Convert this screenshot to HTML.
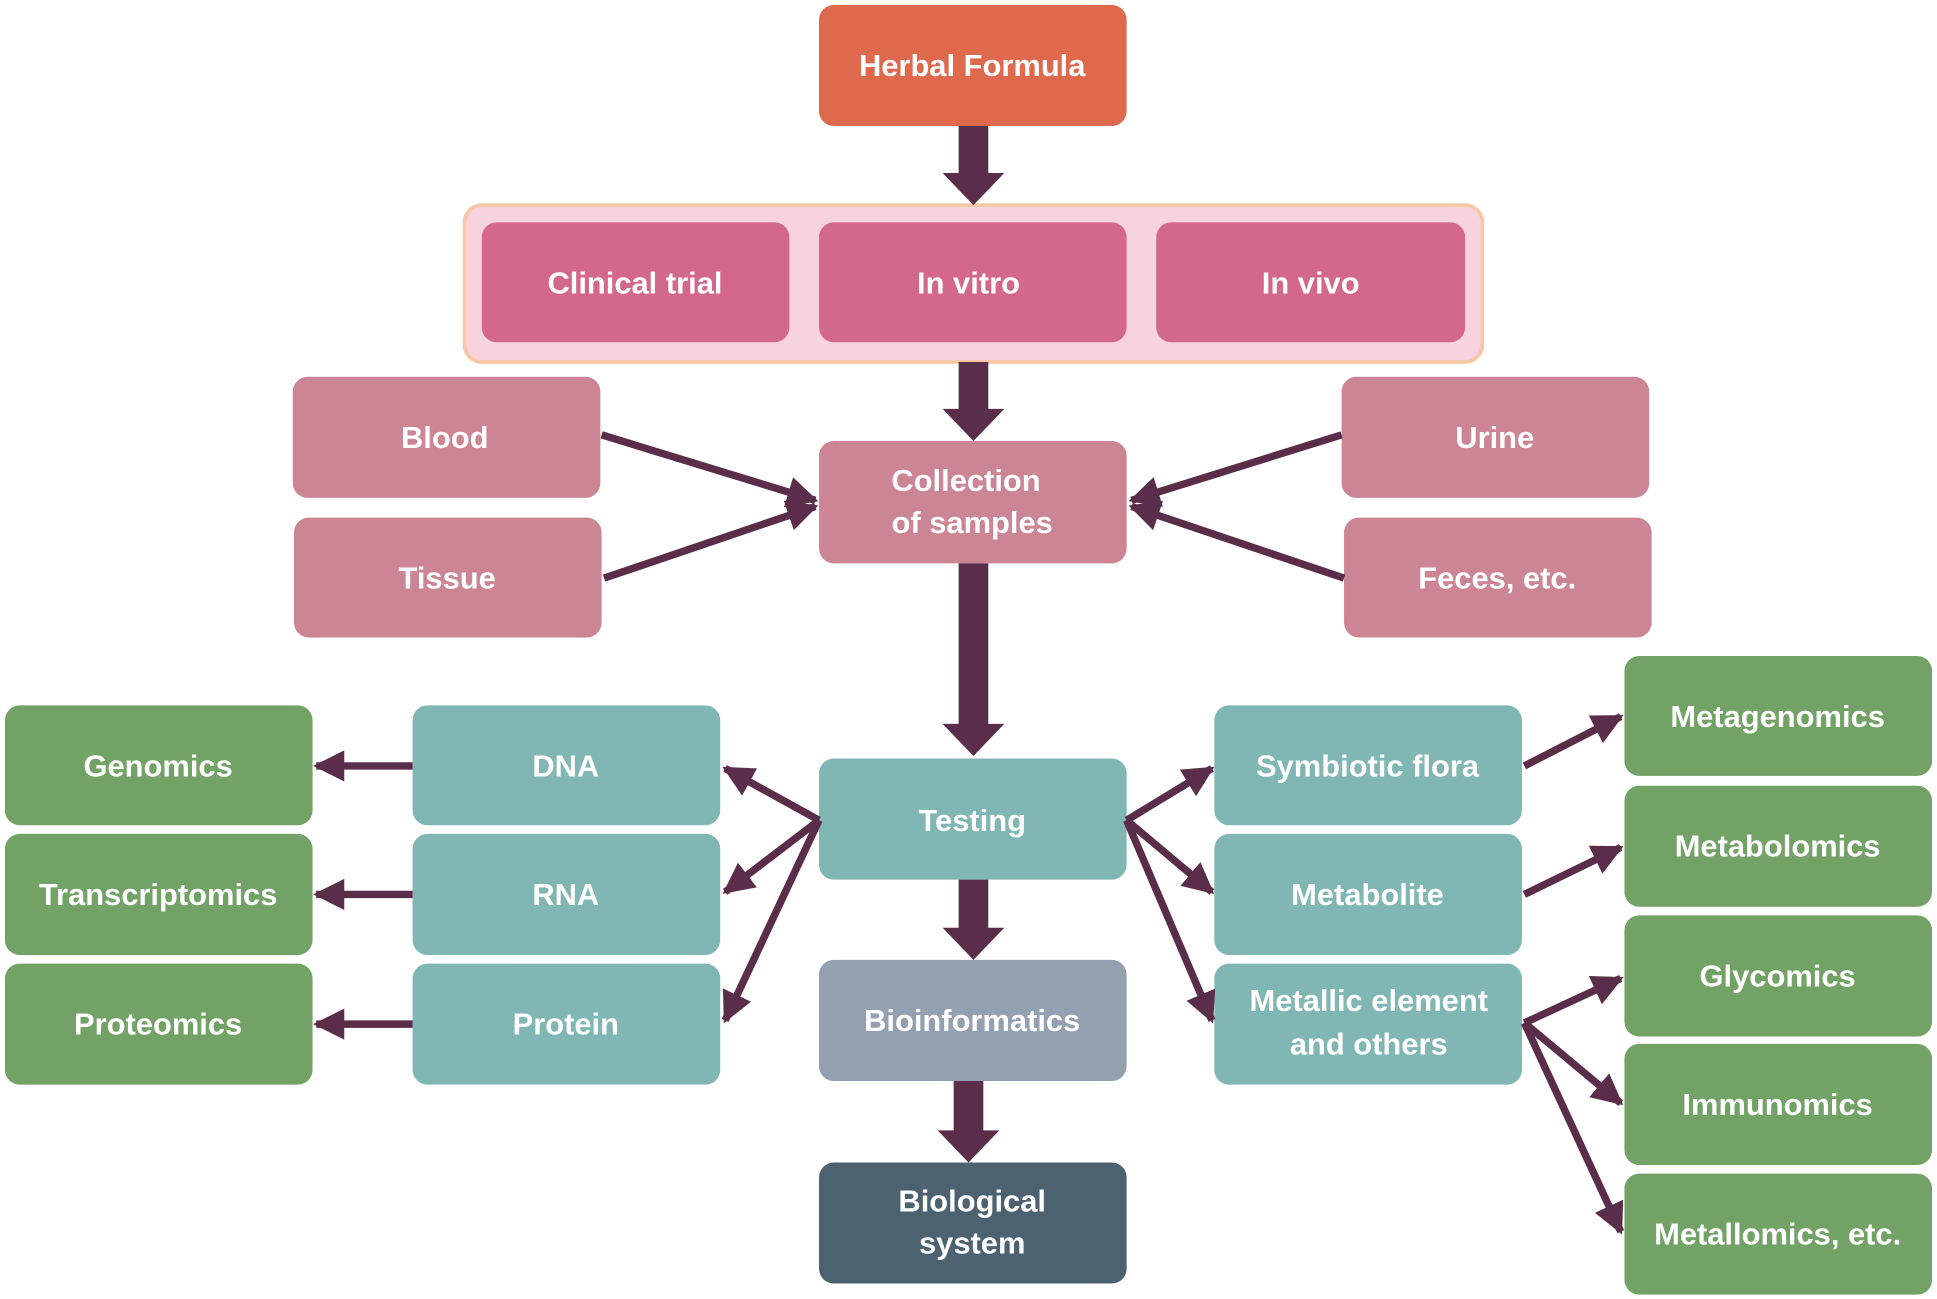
<!DOCTYPE html>
<html><head><style>html,body{margin:0;padding:0;background:#fff}svg{display:block}</style></head><body>
<svg width="1937" height="1299" viewBox="0 0 1568 1051.5" preserveAspectRatio="none" xmlns="http://www.w3.org/2000/svg">
<defs>
<marker id="a" viewBox="0 0 10 10" refX="9" refY="5" markerWidth="4.2" markerHeight="4.2" orient="auto" markerUnits="strokeWidth"><path d="M0,0 L10,5 L0,10 Z" fill="#5A2D4A"/></marker>
</defs>
<style>
text{font-family:"Liberation Sans",sans-serif;font-weight:bold;fill:#fff;font-size:25px;text-anchor:middle;dominant-baseline:central}
.l{stroke:#5A2D4A;stroke-width:6;fill:none;marker-end:url(#a)}
</style>
<rect x="376" y="166" width="824" height="127" rx="14" fill="#F6D3DE" stroke="#F7C8A5" stroke-width="3"/>
<g>
<rect x="663" y="4" width="249" height="98" rx="12" fill="#DF694C"/><text x="787" y="53">Herbal Formula</text>
<rect x="390" y="180" width="249" height="97" rx="12" fill="#D4688A"/><text x="514" y="229">Clinical trial</text>
<rect x="663" y="180" width="249" height="97" rx="12" fill="#D4688A"/><text x="784" y="229">In vitro</text>
<rect x="936" y="180" width="250" height="97" rx="12" fill="#D4688A"/><text x="1061" y="229">In vivo</text>
<rect x="237" y="305" width="249" height="98" rx="12" fill="#CB8594"/><text x="360" y="354">Blood</text>
<rect x="238" y="419" width="249" height="97" rx="12" fill="#CB8594"/><text x="362" y="468">Tissue</text>
<rect x="1086" y="305" width="249" height="98" rx="12" fill="#CB8594"/><text x="1210" y="354">Urine</text>
<rect x="1088" y="419" width="249" height="97" rx="12" fill="#CB8594"/><text x="1212" y="468">Feces, etc.</text>
<rect x="663" y="357" width="249" height="99" rx="12" fill="#CB8594"/><text x="782" y="389">Collection</text><text x="787" y="423">of samples</text>
<rect x="663" y="614" width="249" height="98" rx="12" fill="#80B6B4"/><text x="787" y="664">Testing</text>
<rect x="334" y="571" width="249" height="97" rx="12" fill="#80B6B4"/><text x="458" y="620">DNA</text>
<rect x="334" y="675" width="249" height="98" rx="12" fill="#80B6B4"/><text x="458" y="724">RNA</text>
<rect x="334" y="780" width="249" height="98" rx="12" fill="#80B6B4"/><text x="458" y="829">Protein</text>
<rect x="983" y="571" width="249" height="97" rx="12" fill="#80B6B4"/><text x="1107" y="620">Symbiotic flora</text>
<rect x="983" y="675" width="249" height="98" rx="12" fill="#80B6B4"/><text x="1107" y="724">Metabolite</text>
<rect x="983" y="780" width="249" height="98" rx="12" fill="#80B6B4"/><text x="1108" y="810">Metallic element</text><text x="1108" y="845">and others</text>
<rect x="4" y="571" width="249" height="97" rx="12" fill="#72A266"/><text x="128" y="620">Genomics</text>
<rect x="4" y="675" width="249" height="98" rx="12" fill="#72A266"/><text x="128" y="724">Transcriptomics</text>
<rect x="4" y="780" width="249" height="98" rx="12" fill="#72A266"/><text x="128" y="829">Proteomics</text>
<rect x="1315" y="531" width="249" height="97" rx="12" fill="#72A266"/><text x="1439" y="580">Metagenomics</text>
<rect x="1315" y="636" width="249" height="98" rx="12" fill="#72A266"/><text x="1439" y="685">Metabolomics</text>
<rect x="1315" y="741" width="249" height="98" rx="12" fill="#72A266"/><text x="1439" y="790">Glycomics</text>
<rect x="1315" y="845" width="249" height="98" rx="12" fill="#72A266"/><text x="1439" y="894">Immunomics</text>
<rect x="1315" y="950" width="249" height="98" rx="12" fill="#72A266"/><text x="1439" y="999">Metallomics, etc.</text>
<rect x="663" y="777" width="249" height="98" rx="12" fill="#93A0B0"/><text x="787" y="826">Bioinformatics</text>
<rect x="663" y="941" width="249" height="98" rx="12" fill="#4D6270"/><text x="787" y="972">Biological</text><text x="787" y="1006">system</text>
</g>
<g fill="#5A2D4A">
<path d="M776,102 H800 V140 H813 L788,166 L763,140 H776 Z"/>
<path d="M776,293 H800 V331 H813 L788,357 L763,331 H776 Z"/>
<path d="M776,456 H800 V586 H813 L788,612 L763,586 H776 Z"/>
<path d="M776,712 H800 V751 H813 L788,777 L763,751 H776 Z"/>
<path d="M772,875 H796 V915 H809 L784,941 L759,915 H772 Z"/>
</g>
<g class="x">
<line class="l" x1="487" y1="352" x2="660" y2="405"/>
<line class="l" x1="489" y1="468" x2="660" y2="410"/>
<line class="l" x1="1086" y1="352" x2="916" y2="405"/>
<line class="l" x1="1088" y1="468" x2="916" y2="410"/>
<line class="l" x1="663" y1="664" x2="587" y2="622"/>
<line class="l" x1="663" y1="664" x2="587" y2="722"/>
<line class="l" x1="663" y1="664" x2="587" y2="826"/>
<line class="l" x1="912" y1="664" x2="981" y2="622"/>
<line class="l" x1="912" y1="664" x2="981" y2="722"/>
<line class="l" x1="912" y1="664" x2="981" y2="826"/>
<line class="l" x1="334" y1="620" x2="256" y2="620"/>
<line class="l" x1="334" y1="724" x2="256" y2="724"/>
<line class="l" x1="334" y1="829" x2="256" y2="829"/>
<line class="l" x1="1234" y1="620" x2="1312" y2="580"/>
<line class="l" x1="1234" y1="724" x2="1312" y2="686"/>
<line class="l" x1="1234" y1="828" x2="1312" y2="792"/>
<line class="l" x1="1234" y1="828" x2="1312" y2="893"/>
<line class="l" x1="1234" y1="828" x2="1312" y2="997"/>
</g>
</svg>
</body></html>
